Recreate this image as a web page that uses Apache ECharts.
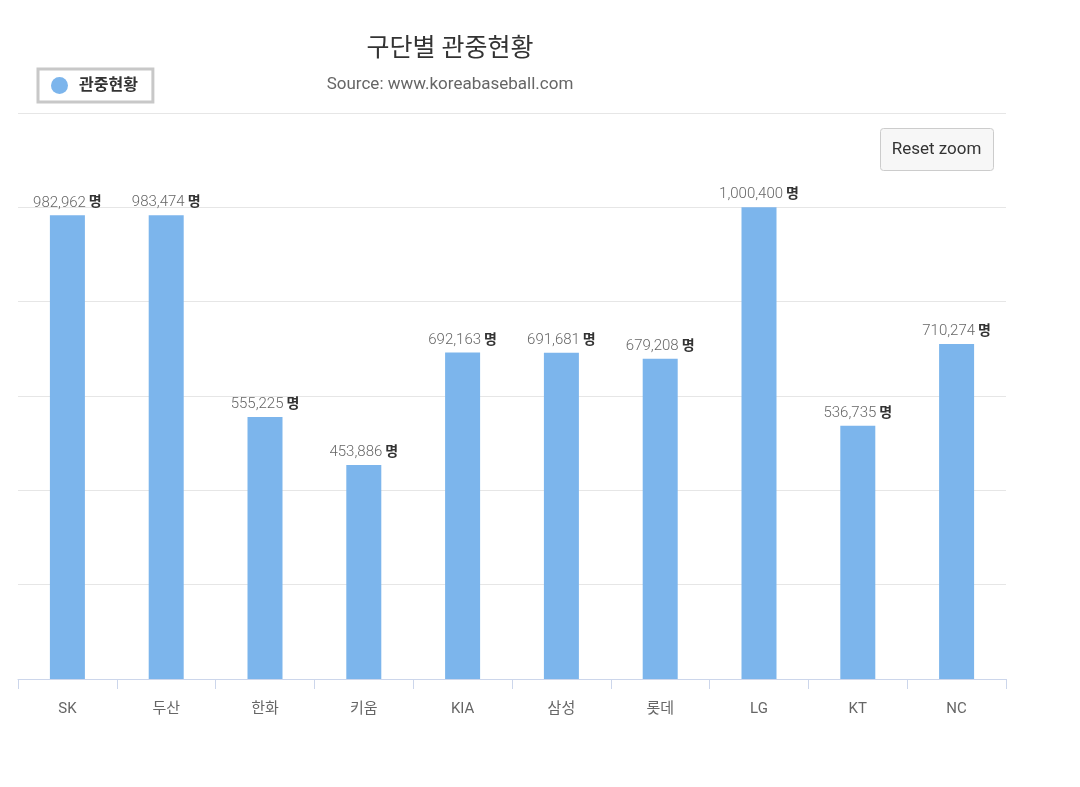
<!DOCTYPE html>
<html>
<head>
<meta charset="utf-8">
<script src="https://cdn.jsdelivr.net/npm/echarts@6/dist/echarts.min.js"></script>
<style>
html,body{margin:0;padding:0;background:#fff;}
#main{width:1080px;height:787px;}
</style>
</head>
<body>
<div id="main"></div>
<script>
const categories = ['SK', '두산', '한화', '키움', 'KIA', '삼성', '롯데', 'LG', 'KT', 'NC'];
const attendance = [982962, 983474, 555225, 453886, 692163, 691681, 679208, 1000400, 536735, 710274];
const seriesName = '관중현황';
const titleText = '구단별 관중현황';
const subtitleText = 'Source: www.koreabaseball.com';
const unit = '명';

const FONT = 'Roboto, "Noto Sans CJK KR", "Noto Sans", sans-serif';
const chart = echarts.init(document.getElementById('main'), null, {renderer: 'canvas'});

chart.setOption({
  backgroundColor: '#ffffff',
  animation: false,
  textStyle: {fontFamily: FONT},
  legend: {
    left: 38, top: 69,
    padding: [8, 15, 8, 13],
    borderColor: '#c8c8c8', borderWidth: 3,
    icon: 'circle', itemWidth: 17, itemHeight: 17, itemGap: 10,
    textStyle: {fontFamily: FONT, fontSize: 16, fontWeight: 'bold', color: '#333333', padding: [0, 0, 0, 6]},
    data: [seriesName]
  },
  grid: {left: 18, right: 74, top: 113, bottom: 108, containLabel: false},
  xAxis: {
    type: 'category',
    data: categories,
    boundaryGap: true,
    axisLine: {lineStyle: {color: '#ccd6eb', width: 1}},
    axisTick: {show: true, length: 10, lineStyle: {color: '#ccd6eb'}},
    axisLabel: {fontFamily: FONT, fontSize: 15, color: '#666666', margin: 23}
  },
  yAxis: {
    type: 'value',
    min: 0, max: 1200000, interval: 200000,
    axisLabel: {show: false},
    axisLine: {show: false},
    axisTick: {show: false},
    splitLine: {lineStyle: {color: '#e6e6e6', width: 1}}
  },
  series: [{
    name: seriesName,
    type: 'bar',
    data: attendance,
    barWidth: 35,
    itemStyle: {color: '#7cb5ec'},
    label: {
      show: true,
      position: 'top',
      distance: 5,
      formatter: function (p) {
        return '{n|' + p.value.toLocaleString('en-US') + '} {u|' + unit + '}';
      },
      rich: {
        n: {fontFamily: FONT, fontSize: 15, color: '#666666', fontWeight: 300},
        u: {fontFamily: FONT, fontSize: 14, color: '#333333', fontWeight: 'bold'}
      }
    }
  }],
  graphic: [
    {type: 'text', x: 450, y: 50, style: {text: titleText, font: '25px ' + FONT, fill: '#333333', textAlign: 'center', textVerticalAlign: 'middle'}},
    {type: 'text', x: 450, y: 85, style: {text: subtitleText, font: '17px ' + FONT, fill: '#666666', textAlign: 'center', textVerticalAlign: 'middle'}},
    {type: 'rect', shape: {x: 880.5, y: 128.5, width: 113, height: 42, r: 3},
     style: {fill: '#f7f7f7', stroke: '#cccccc', lineWidth: 1}},
    {type: 'text', x: 936.5, y: 149.5, style: {text: 'Reset zoom', font: '17px ' + FONT, fill: '#333333', textAlign: 'center', textVerticalAlign: 'middle'}}
  ]
});
</script>
</body>
</html>
